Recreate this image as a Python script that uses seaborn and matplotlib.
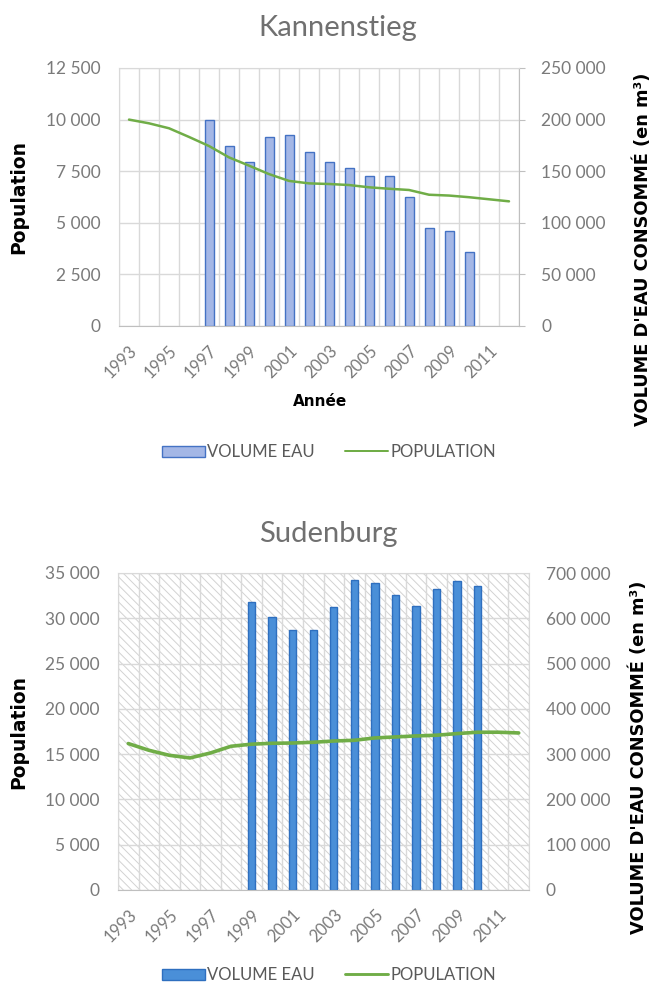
import numpy as np
import pandas as pd
import matplotlib
matplotlib.use("Agg")
import matplotlib.pyplot as plt
import seaborn as sns
from matplotlib.patches import Patch, Rectangle
from matplotlib.lines import Line2D
from matplotlib.ticker import FuncFormatter, MultipleLocator, FixedLocator

# données
years = list(range(1993, 2013))
year_labels = [str(y) if (y - 1993) % 2 == 0 else "" for y in years]

# Kannenstieg
kan_pop = [10000, 9820, 9580, 9160, 8720, 8170, 7770, 7360, 7030, 6910,
           6880, 6830, 6720, 6650, 6590, 6360, 6320, 6240, 6140, 6040]
kan_vol_years = list(range(1997, 2011))
kan_vol = [200000, 174500, 159300, 182900, 185100, 168700, 158600,
           153400, 145100, 145100, 125000, 95000, 92200, 72100]

# Sudenburg
sud_pop = [16170, 15430, 14870, 14580, 15130, 15870, 16100, 16200, 16230, 16310,
           16450, 16530, 16790, 16900, 17010, 17090, 17270, 17420, 17420, 17340]
sud_vol_years = list(range(1999, 2011))
sud_vol = [636800, 603000, 575000, 575000, 625800, 684600,
           677000, 651600, 627000, 664000, 681700, 671000]

sns.set_style("white")
plt.rcParams["font.family"] = ["Lato", "DejaVu Sans"]
plt.rcParams["hatch.linewidth"] = 0.7

GRAY_TXT = "#7a7a7a"
GRID = "#d9d9d9"
GREEN = "#70ad47"
W, H = 653, 984


def space_fmt(v, pos):
    return f"{int(round(v)):,}".replace(",", " ")


def panel(rect, title, title_xy, pop, vol_years, vol, pop_max, pop_step,
          vol_max, vol_step, bar_fc, bar_ec, bar_w, line_w, hatched,
          ylab_left_y, ylab_right_xy, legend_y, xlabel=None):
    ax = fig.add_axes([rect[0] / W, 1 - rect[3] / H,
                       (rect[2] - rect[0]) / W, (rect[3] - rect[1]) / H])
    order = [str(y) for y in years]
    df_vol = pd.DataFrame({"annee": [str(y) for y in vol_years], "volume": vol})
    sns.barplot(data=df_vol, x="annee", y="volume", order=order, ax=ax,
                color=bar_fc, edgecolor=bar_ec, linewidth=1.0, width=bar_w,
                saturation=1, errorbar=None, zorder=2)
    ax.set_xlabel("")
    ax.set_ylabel("")
    ax.set_xlim(-0.5, len(years) - 0.5)
    ax.set_ylim(0, vol_max)
    ax.yaxis.set_major_locator(MultipleLocator(vol_step))
    ax.yaxis.set_major_formatter(FuncFormatter(space_fmt))
    ax.set_axisbelow(True)

    if hatched:
        ax.add_patch(Rectangle((0, 0), 1, 1, transform=ax.transAxes,
                               facecolor="white", edgecolor="#d2d2d2",
                               hatch="\\\\\\\\", lw=0, zorder=0))

    ax.xaxis.set_major_locator(FixedLocator(np.arange(len(years))))
    ax.set_xticklabels(year_labels, rotation=45, ha="right",
                       rotation_mode="anchor", color=GRAY_TXT, fontsize=12)
    ax.xaxis.set_minor_locator(FixedLocator(np.arange(len(years) + 1) - 0.5))
    ax.grid(axis="x", which="minor", color=GRID, lw=1.0)
    ax.grid(axis="y", which="major", color=GRID, lw=1.0)
    ax.tick_params(axis="x", which="major", length=0, pad=12)
    if hatched:
        ax.tick_params(axis="x", which="minor", length=4, color="#bfbfbf",
                       direction="out")
    else:
        ax.tick_params(axis="x", which="minor", length=0)
    for side in ["left", "top"]:
        ax.spines[side].set_color(GRID)
    ax.spines["bottom"].set_color("#bfbfbf")
    ax.spines["right"].set_color("#bfbfbf" if not hatched else GRID)

    ax_pop = ax.twinx()
    sns.lineplot(x=np.arange(len(pop)), y=pop, ax=ax_pop, color=GREEN,
                 linewidth=line_w)
    ax_pop.set_ylabel("")
    ax_pop.yaxis.tick_left()
    ax_pop.set_ylim(0, pop_max)
    ax_pop.set_xlim(-0.5, len(years) - 0.5)
    ax_pop.yaxis.set_major_locator(MultipleLocator(pop_step))
    ax_pop.yaxis.set_major_formatter(FuncFormatter(space_fmt))
    ax_pop.tick_params(axis="y", length=0, pad=13, labelcolor=GRAY_TXT,
                       labelsize=12.5)
    for s in ax_pop.spines.values():
        s.set_visible(False)

    # twinx puts the parent's ticks back on the left: move volume to the right
    ax.yaxis.tick_right()
    if hatched:
        ax.tick_params(axis="y", length=0, pad=12, labelcolor=GRAY_TXT,
                       labelsize=12.5)
    else:
        ax.tick_params(axis="y", length=4, color="#bfbfbf", pad=12,
                       labelcolor=GRAY_TXT, labelsize=12.5, direction="out")

    fig.text(title_xy[0] / W, 1 - title_xy[1] / H, title, ha="center",
             va="center", fontsize=21, color="#707070")
    fig.text(19 / W, 1 - ylab_left_y / H, "Population", rotation=90,
             ha="center", va="center", fontsize=13.5, fontweight="bold",
             family="DejaVu Sans", color="black")
    fig.text(ylab_right_xy[0] / W, 1 - ylab_right_xy[1] / H,
             "VOLUME D'EAU CONSOMMÉ (en m³)", rotation=90, ha="center",
             va="center", fontsize=12.8, fontweight="bold",
             family="DejaVu Sans", color="black")
    if xlabel:
        fig.text(320 / W, 1 - 402 / H, xlabel, ha="center", va="center",
                 fontsize=11, fontweight="bold", family="DejaVu Sans",
                 color="black")

    handles = [Patch(facecolor=bar_fc, edgecolor=bar_ec, lw=1.0),
               Line2D([], [], color=GREEN, lw=line_w * 0.8)]
    fig.legend(handles, ["VOLUME EAU", "POPULATION"], loc="center",
               bbox_to_anchor=(329 / W, 1 - legend_y / H), ncol=2,
               frameon=False, fontsize=12, handlelength=2.6,
               handleheight=0.65, handletextpad=0.15, columnspacing=1.8,
               labelcolor="#595959")


fig = plt.figure(figsize=(W / 100, H / 100), dpi=100)

panel((119, 68, 519, 326), "Kannenstieg", (338, 28), kan_pop, kan_vol_years,
      kan_vol, 12500, 2500, 250000, 50000, "#a4b7e6", "#4472c4", 0.45, 1.8,
      False, 197, (643, 249), 452, xlabel="Année")

panel((118, 573, 529, 890), "Sudenburg", (328, 534), sud_pop, sud_vol_years,
      sud_vol, 35000, 5000, 700000, 100000, "#4a8fd8", "#2e6fbf", 0.36, 2.6,
      True, 732, (639, 757), 975)

fig.savefig("out.png", dpi=100)
